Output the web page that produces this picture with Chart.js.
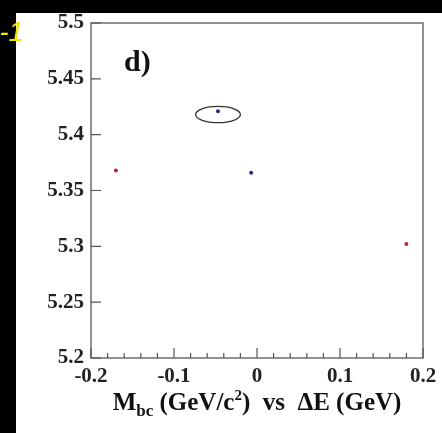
<!DOCTYPE html>
<html>
<head>
<meta charset="utf-8">
<script src="https://cdn.jsdelivr.net/npm/chart.js@4.4.1/dist/chart.umd.min.js"></script>
<style>
  html, body { margin: 0; padding: 0; background: #000; width: 442px; height: 433px; overflow: hidden; }
  #panel { position: absolute; left: 16px; top: 13px; width: 426px; height: 420px; background: #fff; }
  #tag { position: absolute; left: -14px; top: 17px; color: #f5e400; font: italic 27px "Liberation Sans", sans-serif; z-index: 2; }
</style>
</head>
<body>
<div id="panel"><canvas id="c" width="426" height="420"></canvas></div>
<div id="tag">s-1</div>
<script>
// ---- data ----
const redX = [-0.17, 0.18];
const redY = [5.368, 5.302];
const blueX = [-0.047, -0.007];
const blueY = [5.421, 5.366];

// ellipse around the upper blue point (center, half-widths, data units)
const ellipseCenter = [-0.047, 5.418];
const ellipseRadius = [0.027, 0.0073];

const xTicks = [-0.2, -0.1, 0, 0.1, 0.2];
const yTicks = [5.2, 5.25, 5.3, 5.35, 5.4, 5.45, 5.5];
const xMinorStep = 0.02;

const serif = '"Liberation Serif", "DejaVu Serif", serif';
const frameColor = '#6e6e6e';

// frame, inward ticks, ellipse, panel label, axis title
const decor = {
    id: 'decor',
    afterDatasetsDraw(chart) {
        const { ctx, chartArea: a, scales: { x, y } } = chart;
        ctx.save();
        ctx.strokeStyle = frameColor;
        ctx.lineWidth = 1.5;
        ctx.strokeRect(a.left, a.top, a.right - a.left, a.bottom - a.top);

        ctx.lineWidth = 1.2;
        ctx.strokeStyle = '#555';
        ctx.beginPath();
        for (let i = 0; i <= Math.round(0.4 / xMinorStep); i++) {
            const v = -0.2 + i * xMinorStep;
            const px = x.getPixelForValue(v);
            const major = i % 5 === 0;
            ctx.moveTo(px, a.bottom);
            ctx.lineTo(px, a.bottom - (major ? 10 : 5));
        }
        yTicks.forEach(v => {
            const py = y.getPixelForValue(v);
            ctx.moveTo(a.left, py);
            ctx.lineTo(a.left + 10, py);
        });
        ctx.stroke();

        // ellipse
        const cx = x.getPixelForValue(ellipseCenter[0]);
        const cy = y.getPixelForValue(ellipseCenter[1]);
        const rx = Math.abs(x.getPixelForValue(ellipseCenter[0] + ellipseRadius[0]) - cx);
        const ry = Math.abs(y.getPixelForValue(ellipseCenter[1] + ellipseRadius[1]) - cy);
        ctx.strokeStyle = '#333';
        ctx.lineWidth = 1.3;
        ctx.beginPath();
        ctx.ellipse(cx, cy, rx, ry, 0, 0, Math.PI * 2);
        ctx.stroke();

        // panel label
        ctx.fillStyle = '#111';
        ctx.font = 'bold 30px ' + serif;
        ctx.textBaseline = 'alphabetic';
        ctx.fillText('d)', a.left + 33, a.top + 48);

        // x axis title with sub/superscript
        const parts = [
            ['M', 25, 0], ['bc', 17, 6], [' (GeV/c', 25, 0], ['2', 15, -10], [')  vs  \u0394E (GeV)', 25, 0]
        ];
        let w = 0;
        parts.forEach(p => { ctx.font = 'bold ' + p[1] + 'px ' + serif; w += ctx.measureText(p[0]).width; });
        let px = (a.left + a.right) / 2 - w / 2;
        const base = a.bottom + 52;
        parts.forEach(p => {
            ctx.font = 'bold ' + p[1] + 'px ' + serif;
            ctx.fillText(p[0], px, base + p[2]);
            px += ctx.measureText(p[0]).width;
        });
        ctx.restore();
    }
};

new Chart(document.getElementById('c'), {
    type: 'scatter',
    data: {
        datasets: [{
            data: redX.map((v, i) => ({ x: v, y: redY[i] })),
            backgroundColor: '#c0203a',
            borderWidth: 0,
            pointRadius: 2
        }, {
            data: blueX.map((v, i) => ({ x: v, y: blueY[i] })),
            backgroundColor: '#2a2a8a',
            borderWidth: 0,
            pointRadius: 2
        }]
    },
    options: {
        responsive: false,
        animation: false,
        layout: { padding: { top: 10, right: 19, left: 0, bottom: 0 } },
        plugins: { legend: { display: false }, tooltip: { enabled: false } },
        scales: {
            x: {
                type: 'linear',
                min: -0.2, max: 0.2,
                afterBuildTicks: s => { s.ticks = xTicks.map(v => ({ value: v })); },
                afterFit: s => { s.height = 75; s.paddingLeft = 0; s.paddingRight = 0; },
                grid: { display: false, drawTicks: false },
                border: { display: false },
                ticks: {
                    padding: 6,
                    color: '#222',
                    font: { family: serif, size: 21, weight: 'bold' },
                    callback: v => String(v)
                }
            },
            y: {
                min: 5.2, max: 5.5,
                afterBuildTicks: s => { s.ticks = yTicks.map(v => ({ value: v })); },
                afterFit: s => { s.width = 75; s.paddingTop = 0; s.paddingBottom = 0; },
                grid: { display: false, drawTicks: false },
                border: { display: false },
                ticks: {
                    padding: 7,
                    color: '#222',
                    font: { family: serif, size: 21, weight: 'bold' },
                    callback: v => String(v)
                }
            }
        }
    },
    plugins: [decor]
});
</script>
</body>
</html>
